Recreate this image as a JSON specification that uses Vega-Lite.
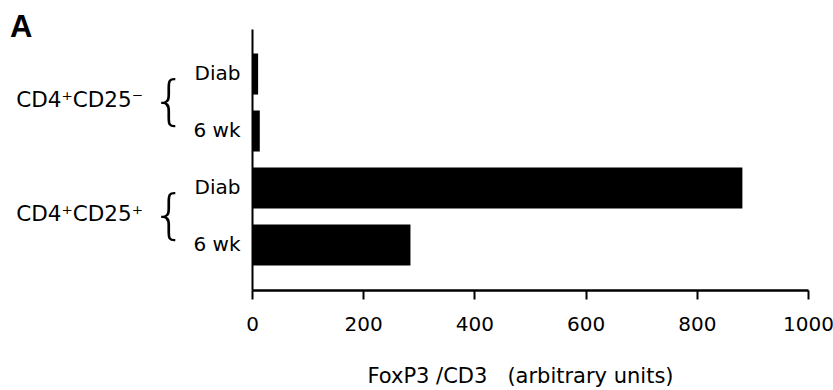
{
  "$schema": "https://vega.github.io/schema/vega-lite/v6.json",
  "width": 556,
  "height": 261,
  "autosize": {"type": "none"},
  "padding": {"left": 252, "top": 29, "right": 25, "bottom": 100},
  "background": "white",
  "config": {"view": {"stroke": null}, "font": "DejaVu Sans"},
  "title": {"text": "A", "anchor": "start", "frame": "group", "fontSize": 31, "fontWeight": "bold", "font": "Liberation Sans", "color": "black", "dx": -242, "offset": -8, "dy": 31, "baseline": "alphabetic"},
  "data": {"values": [
    {"group": "CD4⁺CD25⁻", "cond": "Diab", "key": "CD4⁺CD25⁻|Diab", "value": 11},
    {"group": "CD4⁺CD25⁻", "cond": "6 wk", "key": "CD4⁺CD25⁻|6 wk", "value": 14},
    {"group": "CD4⁺CD25⁺", "cond": "Diab", "key": "CD4⁺CD25⁺|Diab", "value": 882},
    {"group": "CD4⁺CD25⁺", "cond": "6 wk", "key": "CD4⁺CD25⁺|6 wk", "value": 285}
  ]},
  "layer": [
    {
      "mark": {"type": "bar", "color": "black"},
      "encoding": {
        "y": {"field": "key", "type": "nominal", "sort": null,
          "scale": {"paddingInner": 0.28, "paddingOuter": 0.43},
          "axis": {"title": null, "domainColor": "black", "domainWidth": 2, "ticks": false, "labelPadding": 12, "labelFontSize": 20, "labelColor": "black", "labelExpr": "split(datum.value,'|')[1]", "labelAlign": "right", "labelFont": "DejaVu Sans"}},
        "x": {"field": "value", "type": "quantitative",
          "scale": {"domain": [0, 1000], "nice": false, "zero": true},
          "axis": {"values": [0, 200, 400, 600, 800, 1000], "format": "d", "grid": false, "domainColor": "black", "domainWidth": 2.5, "tickColor": "black", "tickWidth": 2, "tickSize": 9, "labelFontSize": 20, "labelColor": "black", "labelPadding": 15, "labelFlush": false, "labelFont": "DejaVu Sans",
            "title": "FoxP3\u00a0/CD3\u00a0\u00a0\u00a0(arbitrary units)", "titleFontSize": 21, "titleFontWeight": "normal", "titleColor": "black", "titlePadding": 31, "titleX": 268, "titleFont": "DejaVu Sans"}}
      }
    },
    {
      "transform": [{"filter": "datum.cond === 'Diab'"}],
      "mark": {"type": "text", "align": "right", "baseline": "middle", "fontSize": 21.5, "color": "black", "font": "DejaVu Sans"},
      "encoding": {
        "y": {"field": "key", "type": "nominal", "sort": null, "bandPosition": 1.15},
        "x": {"datum": -196, "type": "quantitative"},
        "text": {"field": "group"}
      }
    },
    {
      "transform": [{"filter": "datum.cond === 'Diab'"}],
      "mark": {"type": "text", "text": "{", "align": "center", "baseline": "middle", "fontSize": 54, "fontWeight": 200, "color": "black", "font": "DejaVu Sans"},
      "encoding": {
        "y": {"field": "key", "type": "nominal", "sort": null, "bandPosition": 1.2},
        "x": {"datum": -149, "type": "quantitative"}
      }
    }
  ]
}
